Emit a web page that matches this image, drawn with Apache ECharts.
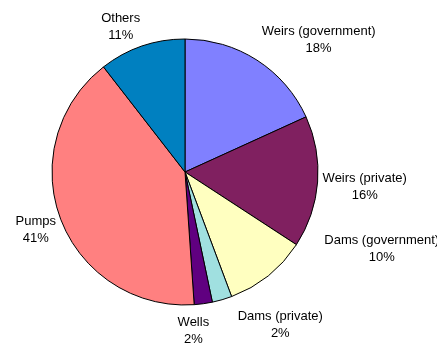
<!DOCTYPE html>
<html>
<head>
<meta charset="utf-8">
<script src="https://cdn.jsdelivr.net/npm/echarts@6/dist/echarts.min.js"></script>
<style>
  html, body { margin: 0; padding: 0; background: #fff; }
  #chart { width: 437px; height: 343px; }
</style>
</head>
<body>
<div id="chart"></div>
<script>
// slices, clockwise from 12 o'clock
const categories = ['Weirs (government)', 'Weirs (private)', 'Dams (government)', 'Dams (private)', 'Wells', 'Pumps', 'Others'];
const shares = [18.2, 16.0, 10.1, 2.4, 2.2, 40.6, 10.5];
const sliceColors = ['#8080ff', '#802060', '#ffffc0', '#a0e0e0', '#600080', '#ff8080', '#0080c0'];

// small label shifts (Excel pushes some labels apart)
const labelNudge = [[2, 1], [0, 2], [53, -48], [33, 3], [-15, 5], [0, -3], [-7, 2]];

const center = [185, 172];
const radius = 133;
const labelGap = 5;

const total = shares.reduce((a, b) => a + b, 0);
const midAngles = [];
let acc = 0;
shares.forEach((v) => {
    midAngles.push((acc + v / 2) / total * 2 * Math.PI);
    acc += v;
});

const clamp = (v) => Math.max(-1, Math.min(1, v));

const placeLabel = (params) => {
    const i = params.dataIndex;
    const a = midAngles[i];
    const ux = Math.sin(a);
    const uy = -Math.cos(a);
    const r = radius + labelGap;
    const w = params.labelRect.width;
    const h = params.labelRect.height;
    const x = center[0] + r * ux + clamp(2 * ux) * w / 2 + labelNudge[i][0];
    const y = center[1] + r * uy + clamp(2 * uy) * h / 2 + labelNudge[i][1];
    return { x: x, y: y, align: 'center', verticalAlign: 'middle' };
};

const chart = echarts.init(document.getElementById('chart'));
chart.setOption({
    backgroundColor: '#fff',
    animation: false,
    series: [
        {
            type: 'pie',
            center: center,
            radius: radius,
            startAngle: 90,
            clockwise: true,
            percentPrecision: 0,
            avoidLabelOverlap: false,
            data: categories.map((name, i) => ({
                name: name,
                value: shares[i],
                itemStyle: { color: sliceColors[i] }
            })),
            itemStyle: {
                borderColor: '#000',
                borderWidth: 1
            },
            label: {
                show: true,
                position: 'outside',
                formatter: '{b}\n{d}%',
                fontFamily: '"Liberation Sans", Arial, sans-serif',
                fontSize: 13,
                lineHeight: 17,
                color: '#000'
            },
            labelLine: { show: false },
            labelLayout: placeLabel,
            emphasis: { disabled: true }
        }
    ]
});
</script>
</body>
</html>
